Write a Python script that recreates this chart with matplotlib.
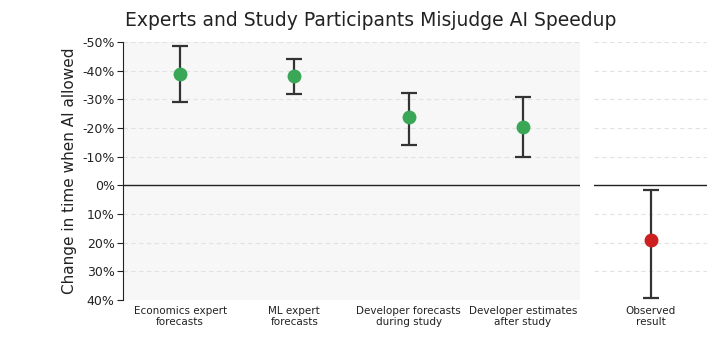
import matplotlib.pyplot as plt

# forecast / estimate data (percent change in time when AI allowed)
categories = ["Economics expert\nforecasts", "ML expert\nforecasts",
              "Developer forecasts\nduring study", "Developer estimates\nafter study"]
estimates = [-38.9, -38.2, -23.9, -20.4]
ci_low = [-48.6, -44.1, -32.2, -30.8]
ci_high = [-29.1, -31.9, -14.1, -9.9]

observed_label = ["Observed\nresult"]
observed = [19.0]
observed_low = [1.5]
observed_high = [39.2]

yticks = [-50, -40, -30, -20, -10, 0, 10, 20, 30, 40]
ytick_labels = ["-50%", "-40%", "-30%", "-20%", "-10%", "0%", "10%", "20%", "30%", "40%"]

plt.rcParams['font.family'] = ['DejaVu Sans']
text_color = "#222222"

fig = plt.figure(figsize=(7.26, 3.39), dpi=100)
ax = fig.add_axes([123 / 726, 1 - 300 / 339, 457 / 726, 258 / 339])
ax2 = fig.add_axes([594 / 726, 1 - 300 / 339, 113 / 726, 258 / 339])

ax.set_facecolor("#f7f7f7")
ax2.set_facecolor("white")

x = list(range(len(categories)))
err = [[e - lo for e, lo in zip(estimates, ci_low)],
       [hi - e for e, hi in zip(estimates, ci_high)]]
ax.errorbar(x, estimates, yerr=err, fmt="o", color="#3aa757", markersize=9,
            ecolor="#333333", elinewidth=1.6, capsize=6, capthick=1.6, zorder=3)

err2 = [[observed[0] - observed_low[0]], [observed_high[0] - observed[0]]]
ax2.errorbar([0], observed, yerr=err2, fmt="o", color="#cc1f1f", markersize=9,
             ecolor="#333333", elinewidth=1.6, capsize=6, capthick=1.6, zorder=3)

for a in (ax, ax2):
    a.set_ylim(40, -50)
    a.set_yticks(yticks)
    a.grid(axis="y", linestyle=(0, (4, 3)), color="#e2e2e2", linewidth=0.8)
    a.set_axisbelow(True)
    a.axhline(0, color="#222222", linewidth=1.0, zorder=2)
    for s in ("top", "right", "bottom"):
        a.spines[s].set_visible(False)
    a.tick_params(axis="x", length=0, labelsize=7.5, colors=text_color, pad=4)

ax.set_xlim(-0.5, len(categories) - 0.5)
ax.set_xticks(x)
ax.set_xticklabels(categories)
ax.set_yticklabels(ytick_labels)
ax.tick_params(axis="y", labelsize=9, colors=text_color, length=4, pad=2)
ax.spines["left"].set_color("#222222")
ax.set_ylabel("Change in time when AI allowed", fontsize=11, color=text_color, labelpad=4)

ax2.set_xlim(-0.5, 0.5)
ax2.set_xticks([0])
ax2.set_xticklabels(observed_label)
ax2.spines["left"].set_visible(False)
ax2.tick_params(axis="y", left=False, labelleft=False)

fig.text(371 / 726, 1 - 20 / 339, "Experts and Study Participants Misjudge AI Speedup",
         ha="center", va="center", fontsize=13.5, color=text_color)

fig.savefig("out.png", dpi=100)
